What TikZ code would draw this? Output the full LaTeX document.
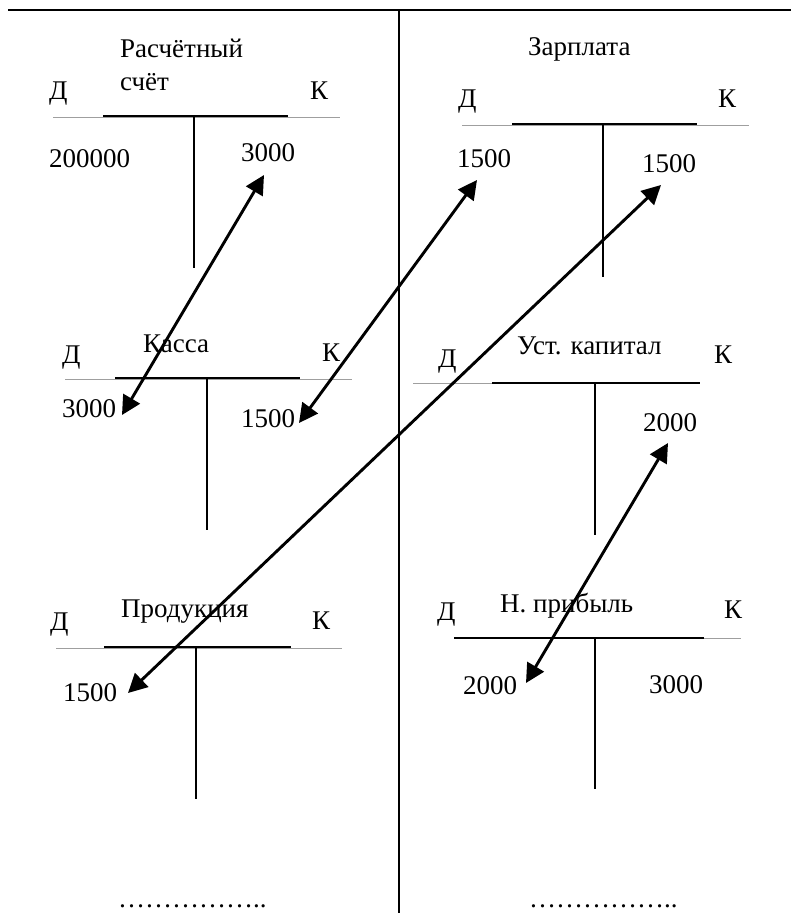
\documentclass[tikz,border=0pt]{standalone}
\usepackage{fontspec}
\setmainfont{Liberation Serif}
\usetikzlibrary{arrows.meta}
\begin{document}
\begin{tikzpicture}[x=1pt,y=-1pt,
  lbl/.style={anchor=base west,inner sep=0pt,font=\fontsize{27}{32}\selectfont},
  frame/.style={line width=1.6pt,black},
  thinrule/.style={line width=0.9pt,gray!75},
  thickrule/.style={line width=1.8pt,black},
  stem/.style={line width=1.8pt,black},
  link/.style={line width=2.9pt,black,{Triangle[length=19pt,width=19pt]}-{Triangle[length=19pt,width=19pt]}}]
\useasboundingbox (0,0) rectangle (791,913);
% frame
\coordinate (fl) at (8,10); \coordinate (fr) at (791,10);
\coordinate (vt) at (399,10); \coordinate (vb) at (399,913);
\draw[frame] (fl) -- (fr);
\draw[frame] (vt) -- (vb);

% Account 1: Расчётный счёт
\node[lbl] (t1a) at (120,57) {Расчётный};
\node[lbl] (t1b) at (120,90) {счёт};
\node[lbl] (d1) at (49,99) {Д};
\node[lbl] (k1) at (310,99) {К};
\node[lbl] (v1a) at (49,167) {200000};
\node[lbl] (v1b) at (241,161) {3000};
\coordinate (a1l) at (53,117); \coordinate (a1r) at (340,117);
\coordinate (b1l) at (103,116); \coordinate (b1r) at (288,116);
\coordinate (s1t) at (194,116); \coordinate (s1b) at (194,268);
\draw[thinrule] (a1l) -- (a1r);
\draw[thickrule] (b1l) -- (b1r);
\draw[stem] (s1t) -- (s1b);

% Account 2: Зарплата
\node[lbl] (t2) at (528,55) {Зарплата};
\node[lbl] (d2) at (458,107) {Д};
\node[lbl] (k2) at (718,107) {К};
\node[lbl] (v2a) at (457,167) {1500};
\node[lbl] (v2b) at (642,172) {1500};
\coordinate (a2l) at (462,125); \coordinate (a2r) at (749,125);
\coordinate (b2l) at (512,124); \coordinate (b2r) at (697,124);
\coordinate (s2t) at (603,124); \coordinate (s2b) at (603,277);
\draw[thinrule] (a2l) -- (a2r);
\draw[thickrule] (b2l) -- (b2r);
\draw[stem] (s2t) -- (s2b);

% Account 3: Касса
\node[lbl] (t3) at (143,352) {Касса};
\node[lbl] (d3) at (62,363) {Д};
\node[lbl] (k3) at (322,361) {К};
\node[lbl] (v3a) at (62,417) {3000};
\node[lbl] (v3b) at (241,427) {1500};
\coordinate (a3l) at (65,379); \coordinate (a3r) at (352,379);
\coordinate (b3l) at (115,378); \coordinate (b3r) at (300,378);
\coordinate (s3t) at (207,378); \coordinate (s3b) at (207,530);
\draw[thinrule] (a3l) -- (a3r);
\draw[thickrule] (b3l) -- (b3r);
\draw[stem] (s3t) -- (s3b);

% Account 4: Уст. капитал
\node[lbl] (t4) at (517,354) {Уст. капитал};
\node[lbl] (d4) at (438,367) {Д};
\node[lbl] (k4) at (714,363) {К};
\node[lbl] (v4b) at (643,431) {2000};
\coordinate (a4l) at (413,383); \coordinate (a4r) at (492,383);
\coordinate (b4l) at (492,383); \coordinate (b4r) at (700,383);
\coordinate (s4t) at (595,383); \coordinate (s4b) at (595,535);
\draw[thinrule] (a4l) -- (a4r);
\draw[thickrule] (b4l) -- (b4r);
\draw[stem] (s4t) -- (s4b);

% Account 5: Продукция
\node[lbl] (t5) at (121,617) {Продукция};
\node[lbl] (d5) at (50,630) {Д};
\node[lbl] (k5) at (312,629) {К};
\node[lbl] (v5a) at (63,701) {1500};
\coordinate (a5l) at (56,648); \coordinate (a5r) at (342,648);
\coordinate (b5l) at (104,647); \coordinate (b5r) at (291,647);
\coordinate (s5t) at (196,647); \coordinate (s5b) at (196,799);
\draw[thinrule] (a5l) -- (a5r);
\draw[thickrule] (b5l) -- (b5r);
\draw[stem] (s5t) -- (s5b);

% Account 6: Н. прибыль
\node[lbl] (t6) at (500,612) {Н. прибыль};
\node[lbl] (d6) at (437,620) {Д};
\node[lbl] (k6) at (724,618) {К};
\node[lbl] (v6a) at (463,694) {2000};
\node[lbl] (v6b) at (649,693) {3000};
\coordinate (a6l) at (704,638); \coordinate (a6r) at (741,638);
\coordinate (b6l) at (454,638); \coordinate (b6r) at (704,638);
\coordinate (s6t) at (595,638); \coordinate (s6b) at (595,789);
\draw[thinrule] (a6l) -- (a6r);
\draw[thickrule] (b6l) -- (b6r);
\draw[stem] (s6t) -- (s6b);

% dotted continuation
\node[lbl] (dl) at (118,907) {……………..};
\node[lbl] (dr) at (529,907) {……………..};

% arrows
\coordinate (p1a) at (122,415); \coordinate (p1b) at (264,175);
\coordinate (p2a) at (299,423); \coordinate (p2b) at (477,180);
\coordinate (p3a) at (128,693); \coordinate (p3b) at (661,185);
\coordinate (p4a) at (526,683); \coordinate (p4b) at (668,443);
\draw[link] (p1a) -- (p1b);
\draw[link] (p2a) -- (p2b);
\draw[link] (p3a) -- (p3b);
\draw[link] (p4a) -- (p4b);
\end{tikzpicture}
\end{document}
